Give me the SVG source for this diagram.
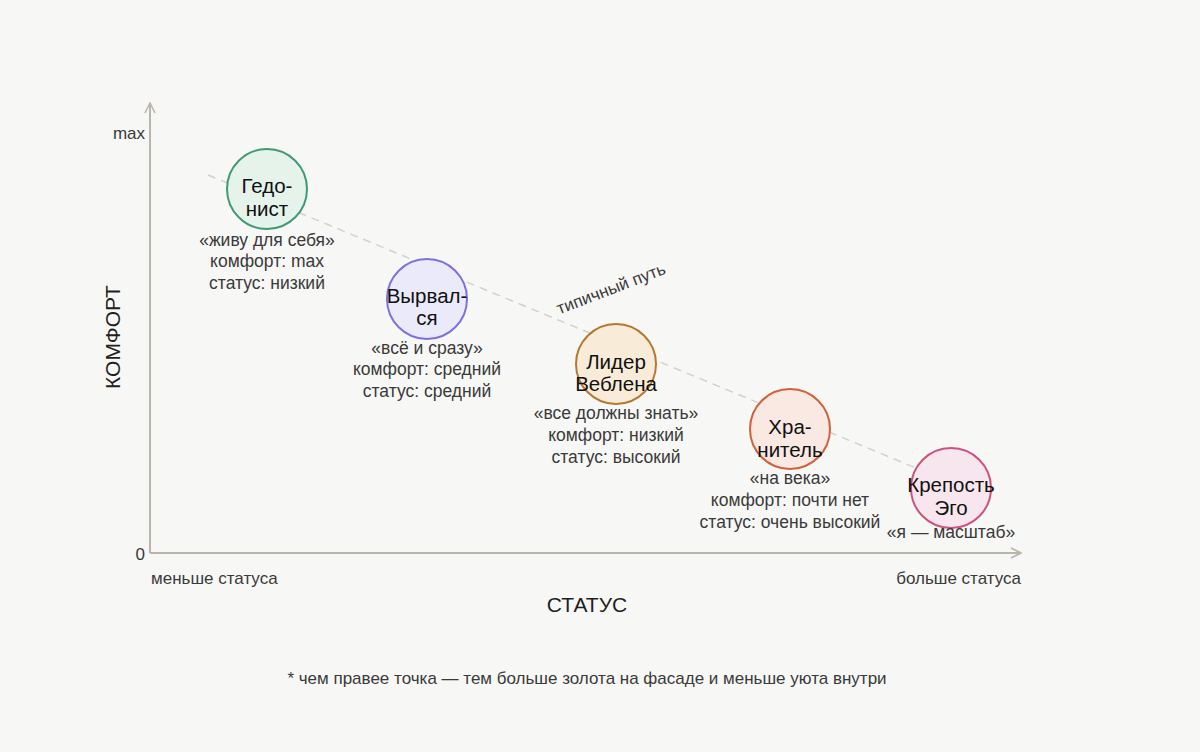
<svg xmlns="http://www.w3.org/2000/svg" width="1200" height="752" viewBox="0 0 1200 752">
<style>
text{font-family:"Liberation Sans","Noto Sans",Arial,sans-serif}
.axis{stroke:#bab6ad;stroke-width:2;fill:none}
.ax{font-size:17px;fill:#3a3a3a}
.title{font-size:21px;fill:#1f1f1f}
.name{font-size:20.5px;fill:#111;text-anchor:middle}
.note{font-size:17.5px;fill:#3a3a3a;text-anchor:middle}
.node circle{stroke-width:2}
</style>
<defs>
<marker id="chev" viewBox="0 0 12 12" refX="11" refY="6" markerWidth="12" markerHeight="12" markerUnits="userSpaceOnUse" orient="auto">
<path d="M1,1 L11,6 L1,11" fill="none" stroke="#bab6ad" stroke-width="1.6"/>
</marker>
</defs>
<rect width="1200" height="752" fill="#f7f7f5"/>
<g id="axes">
<line class="axis" x1="150" y1="553" x2="150" y2="103" marker-end="url(#chev)"/>
<line class="axis" x1="150" y1="553" x2="1021" y2="553" marker-end="url(#chev)"/>
<text class="ax" x="145" y="139" text-anchor="end">max</text>
<text class="ax" x="145" y="560" text-anchor="end">0</text>
<text class="ax" x="151" y="584">меньше статуса</text>
<text class="ax" x="1021" y="584" text-anchor="end">больше статуса</text>
<text class="title" x="587" y="612" text-anchor="middle">СТАТУС</text>
<text class="title" x="0" y="0" text-anchor="middle" transform="translate(120,337) rotate(-90)">КОМФОРТ</text>
</g>
<g id="connectors">
<line x1="208" y1="175" x2="916" y2="468" stroke="#d3d1cb" stroke-width="1.5" stroke-dasharray="8 6"/>
<text class="ax" x="0" y="0" text-anchor="middle" transform="translate(613,294) rotate(-21)">типичный путь</text>
</g>
<g id="hedonist" class="node">
<circle cx="267" cy="189" r="40" fill="#e5f3eb" stroke="#3f9a74"/>
<text class="name" x="267" y="193">Гедо-</text>
<text class="name" x="267" y="216">нист</text>
<text class="note" x="267" y="246">«живу для себя»</text>
<text class="note" x="267" y="267">комфорт: max</text>
<text class="note" x="267" y="289">статус: низкий</text>
</g>
<g id="vyrvalsya" class="node">
<circle cx="427" cy="299" r="40" fill="#ebeafa" stroke="#7d70e0"/>
<text class="name" x="427" y="303">Вырвал-</text>
<text class="name" x="427" y="325">ся</text>
<text class="note" x="427" y="354">«всё и сразу»</text>
<text class="note" x="427" y="375">комфорт: средний</text>
<text class="note" x="427" y="397">статус: средний</text>
</g>
<g id="veblen" class="node">
<circle cx="616" cy="364" r="40" fill="#f8ecd8" stroke="#b5782f"/>
<text class="name" x="616" y="369">Лидер</text>
<text class="name" x="616" y="391">Веблена</text>
<text class="note" x="616" y="419">«все должны знать»</text>
<text class="note" x="616" y="441">комфорт: низкий</text>
<text class="note" x="616" y="463">статус: высокий</text>
</g>
<g id="keeper" class="node">
<circle cx="790" cy="429" r="40" fill="#f9e9e2" stroke="#d0613a"/>
<text class="name" x="790" y="434">Хра-</text>
<text class="name" x="790" y="457">нитель</text>
<text class="note" x="790" y="484">«на века»</text>
<text class="note" x="790" y="506">комфорт: почти нет</text>
<text class="note" x="790" y="528">статус: очень высокий</text>
</g>
<g id="fortress" class="node">
<circle cx="951" cy="488" r="40" fill="#f8e6ee" stroke="#c9557f"/>
<text class="name" x="951" y="492">Крепость</text>
<text class="name" x="951" y="515">Эго</text>
<text class="note" x="951" y="538">«я — масштаб»</text>
</g>
<g id="footer">
<text class="ax" x="587" y="684" text-anchor="middle">* чем правее точка — тем больше золота на фасаде и меньше уюта внутри</text>
</g>
</svg>
